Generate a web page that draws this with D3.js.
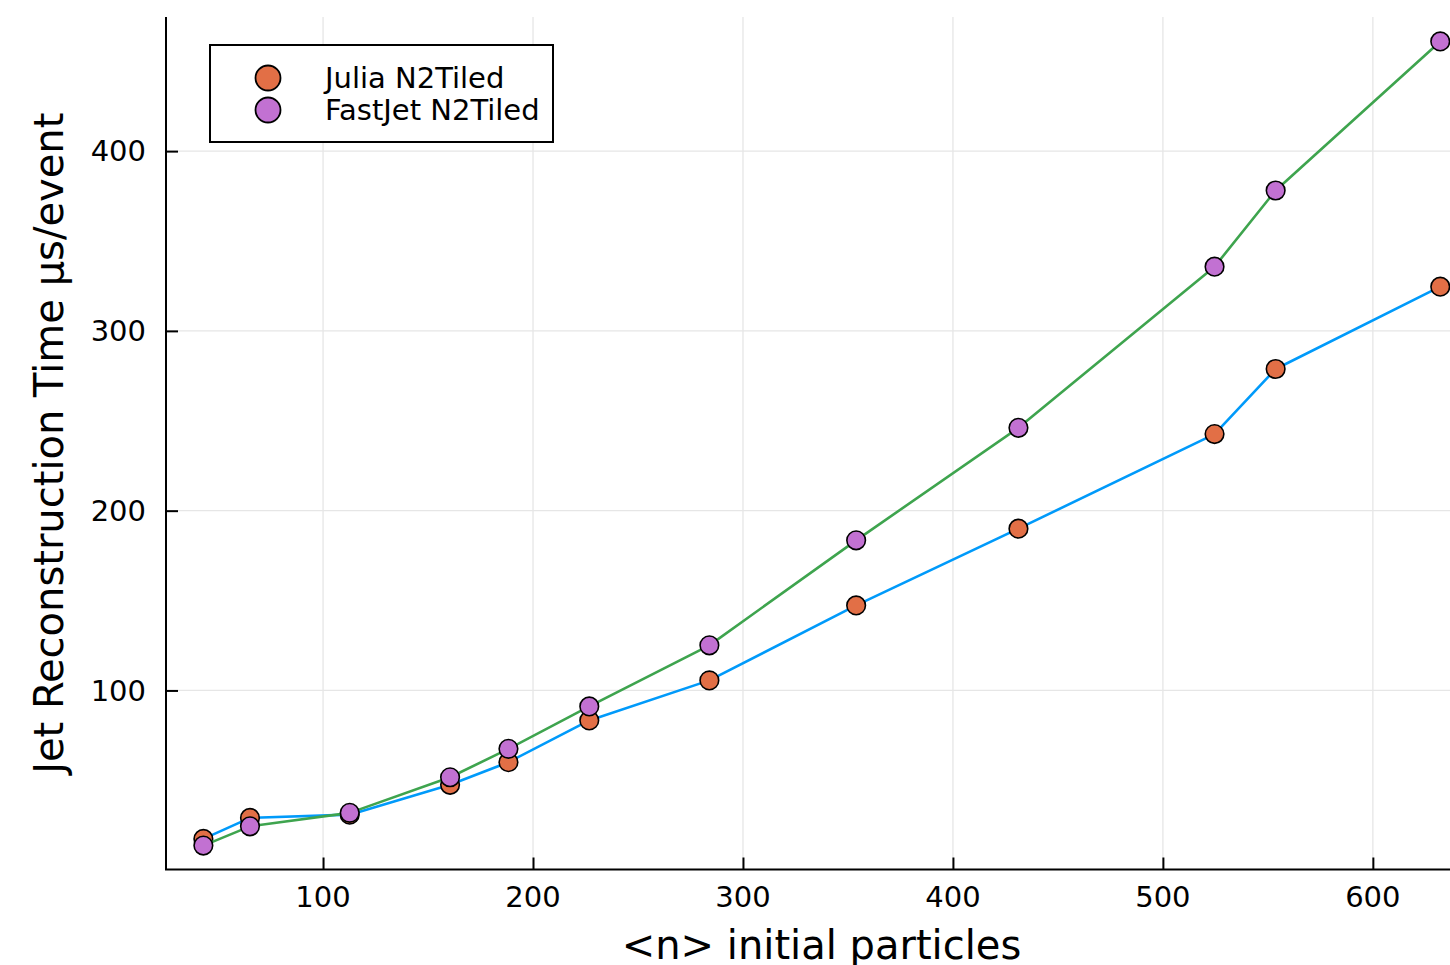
<!DOCTYPE html>
<meta charset="utf-8">
<style>
body { margin: 0; background: #fff; }
text { font-family: "DejaVu Sans", sans-serif; fill: #000; }
.grid line { stroke: #e6e6e6; stroke-width: 1.3; }
</style>
<svg width="1450" height="965"></svg>
<script src="https://d3js.org/d3.v7.min.js"></script>
<script>

// mean number of initial particles per event
var nParticles = [43.0, 65.2, 112.7, 160.5, 188.3, 226.8, 284.0, 353.9, 431.2, 524.6, 553.7, 632.1];

// jet reconstruction time, us/event
var juliaTime   = [17.4, 29.1, 30.9, 47.5, 60.1, 83.3, 105.6, 147.3, 190.0, 242.6, 278.8, 324.6];
var fastjetTime = [13.7, 24.4, 31.9, 51.7, 67.5, 91.1, 125.1, 183.5, 246.1, 335.7, 378.1, 461.0];

var xTicks = [100, 200, 300, 400, 500, 600];
var yTicks = [100, 200, 300, 400];

var seriesNames = ["Julia N2Tiled", "FastJet N2Tiled"];

var svg = d3.select("svg");

var pLeft = 166, pRight = 1477, pTop = 17, pBottom = 869.5;

var x = d3.scaleLinear().domain([25.2, 649.6]).range([pLeft, pRight]);
var y = d3.scaleLinear().domain([0.4, 474.6]).range([pBottom, pTop]);

// grid
var grid = svg.append("g").attr("class", "grid");
grid.selectAll(".gx").data(xTicks).enter().append("line")
  .attr("x1", d => x(d)).attr("x2", d => x(d))
  .attr("y1", pTop).attr("y2", pBottom);
grid.selectAll(".gy").data(yTicks).enter().append("line")
  .attr("x1", pLeft).attr("x2", pRight)
  .attr("y1", d => y(d)).attr("y2", d => y(d));

// axes, ticks point inward like GR
var xAxis = svg.append("g")
  .attr("transform", "translate(0," + pBottom + ")")
  .call(d3.axisTop(x).tickValues(xTicks).tickSize(12));
xAxis.selectAll("text").remove();
var yAxis = svg.append("g")
  .attr("transform", "translate(" + pLeft + ",0)")
  .call(d3.axisRight(y).tickValues(yTicks).tickSize(12));
yAxis.selectAll("text").remove();
svg.selectAll(".tick line").attr("stroke", "#000").attr("stroke-width", 2);
svg.selectAll(".domain").remove();

svg.append("line").attr("x1", pLeft - 1).attr("x2", pRight + 10)
  .attr("y1", pBottom).attr("y2", pBottom).attr("stroke", "#000").attr("stroke-width", 2);
svg.append("line").attr("x1", pLeft).attr("x2", pLeft)
  .attr("y1", pTop).attr("y2", pBottom).attr("stroke", "#000").attr("stroke-width", 2);

// tick labels
svg.selectAll(".xl").data(xTicks).enter().append("text")
  .attr("x", d => x(d)).attr("y", 907)
  .attr("text-anchor", "middle")
  .style("font-size", "29px")
  .text(d => d);
svg.selectAll(".yl").data(yTicks).enter().append("text")
  .attr("x", 146).attr("y", d => y(d))
  .attr("dy", "0.35em")
  .attr("text-anchor", "end")
  .style("font-size", "29px")
  .text(d => d);

// axis titles
svg.append("text")
  .attr("x", (pLeft + pRight) / 2).attr("y", 959)
  .attr("text-anchor", "middle")
  .style("font-size", "40px")
  .text("<n> initial particles");
svg.append("text")
  .attr("transform", "translate(63," + (pTop + pBottom) / 2 + ") rotate(-90)")
  .attr("text-anchor", "middle")
  .style("font-size", "40px")
  .text("Jet Reconstruction Time μs/event");

// series
var line = d3.line().x(d => x(d[0])).y(d => y(d[1]));
var juliaPts = d3.zip(nParticles, juliaTime);
var fastjetPts = d3.zip(nParticles, fastjetTime);

function drawLine(pts, color) {
  svg.append("path").datum(pts)
    .attr("d", line)
    .attr("fill", "none")
    .attr("stroke", color)
    .attr("stroke-width", 2.6)
    .attr("stroke-linejoin", "round");
}

function drawDots(pts, color) {
  svg.append("g").selectAll("circle").data(pts).enter().append("circle")
    .attr("cx", d => x(d[0])).attr("cy", d => y(d[1]))
    .attr("r", 9.3)
    .attr("fill", color)
    .attr("stroke", "#000")
    .attr("stroke-width", 1.6);
}

drawLine(juliaPts, "#009AFA");
drawDots(juliaPts, "#E26F46");
drawLine(fastjetPts, "#3EA44E");
drawDots(fastjetPts, "#C271D2");

// legend
var legend = svg.append("g");
legend.append("rect")
  .attr("x", 210).attr("y", 45).attr("width", 343).attr("height", 97)
  .attr("fill", "#fff").attr("stroke", "#000").attr("stroke-width", 2);
var legendColors = ["#E26F46", "#C271D2"];
seriesNames.forEach(function(name, i) {
  legend.append("circle")
    .attr("cx", 268).attr("cy", 78 + i * 32).attr("r", 12.5)
    .attr("fill", legendColors[i]).attr("stroke", "#000").attr("stroke-width", 1.8);
  legend.append("text")
    .attr("x", 325).attr("y", 78 + i * 32).attr("dy", "0.35em")
    .style("font-size", "29px")
    .text(name);
});

</script>
